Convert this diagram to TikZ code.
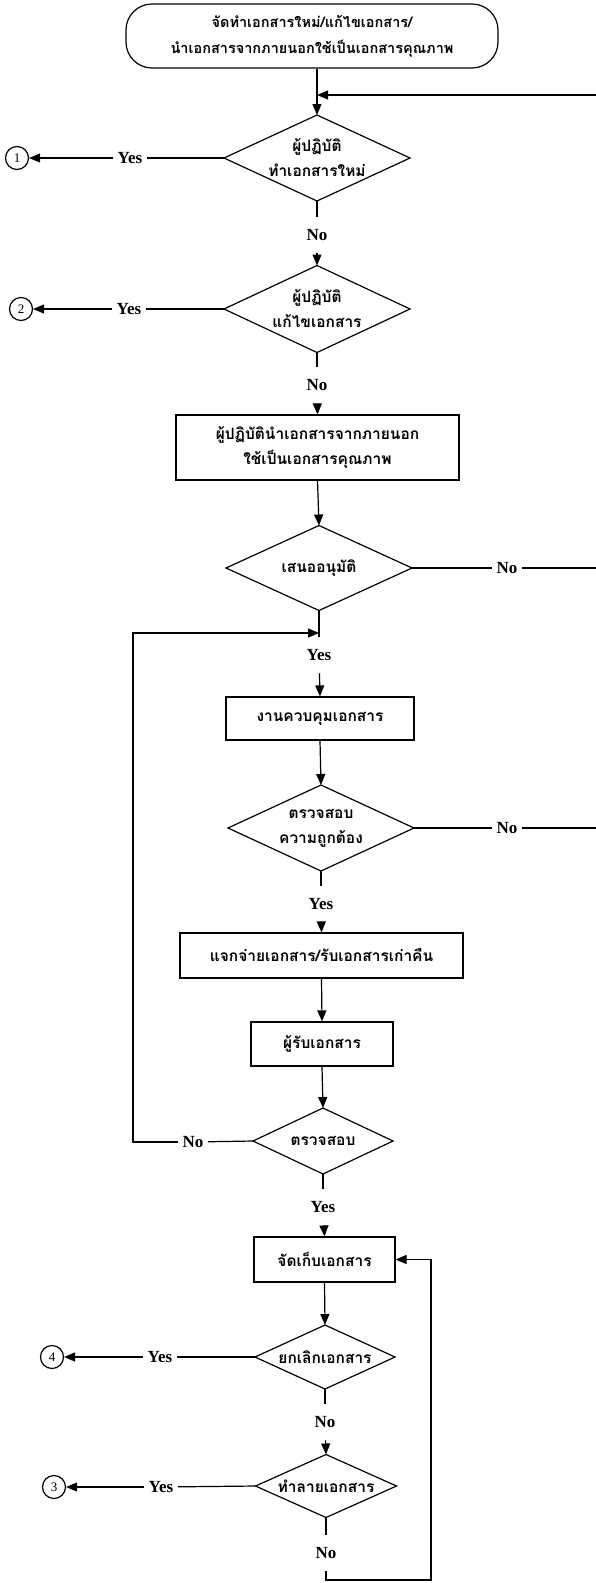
\documentclass[tikz,border=0pt]{standalone}
\usepackage{fontspec}
\setmainfont{Liberation Serif}
\newfontfamily\thaifont[Script=Thai]{Loma}
\usetikzlibrary{shapes.geometric,arrows.meta}

\begin{document}
\begin{tikzpicture}[x=1pt,y=-1pt,line width=1.2pt,
        >={Triangle[length=11pt,width=9pt]},
        th/.style={font={\thaifont\bfseries\fontsize{15.5}{25}\selectfont},align=center},
        term/.style={draw,rounded corners=26pt,inner sep=0pt,align=center,font={\thaifont\bfseries\fontsize{14.5}{26}\selectfont}},
        proc/.style={draw,inner sep=0pt,th},
        dec/.style={diamond,draw,inner sep=0pt,outer sep=0pt},
        lab/.style={font={\bfseries\fontsize{17}{19}\selectfont},inner xsep=4pt,inner ysep=12pt},
        conn/.style={draw,circle,minimum size=23pt,inner sep=0pt,font={\fontsize{13}{13}\selectfont}}]
                \useasboundingbox (0,0) rectangle (595,1583);
                \node[term,minimum width=372pt,minimum height=64pt] (t) at (312,36) {จัดทำเอกสารใหม่/แก้ไขเอกสาร/\\นำเอกสารจากภายนอกใช้เป็นเอกสารคุณภาพ};
                \node[dec,minimum width=186pt,minimum height=86pt] (d1) at (317,158) {};
                \node[th] (d1t) at (d1) {ผู้ปฏิบัติ\\ทำเอกสารใหม่};
                \node[dec,minimum width=186pt,minimum height=87pt] (d2) at (317,309) {};
                \node[th] (d2t) at (d2) {ผู้ปฏิบัติ\\แก้ไขเอกสาร};
                \node[proc,minimum width=283pt,minimum height=65pt] (b1) at (317.5,447.5) {ผู้ปฏิบัตินำเอกสารจากภายนอก\\ใช้เป็นเอกสารคุณภาพ};
                \node[dec,minimum width=186pt,minimum height=85pt] (d3) at (319,568) {};
                \node[th] (d3t) at (d3) {เสนออนุมัติ};
                \node[proc,minimum width=188pt,minimum height=43pt] (b2) at (320,718.5) {งานควบคุมเอกสาร};
                \node[dec,minimum width=186pt,minimum height=86pt] (d4) at (321,828) {};
                \node[th] (d4t) at (d4) {ตรวจสอบ\\ความถูกต้อง};
                \node[proc,minimum width=283pt,minimum height=45pt] (b3) at (321.5,955.5) {แจกจ่ายเอกสาร/รับเอกสารเก่าคืน};
                \node[proc,minimum width=142pt,minimum height=44pt] (b4) at (322,1044) {ผู้รับเอกสาร};
                \node[dec,minimum width=140pt,minimum height=66pt] (d5) at (323,1141) {};
                \node[th] (d5t) at (d5) {ตรวจสอบ};
                \node[proc,minimum width=141pt,minimum height=45pt] (b5) at (324.5,1259.5) {จัดเก็บเอกสาร};
                \node[dec,minimum width=140pt,minimum height=64pt] (d6) at (325,1357) {};
                \node[th] (d6t) at (d6) {ยกเลิกเอกสาร};
                \node[dec,minimum width=141pt,minimum height=63pt] (d7) at (326,1486) {};
                \node[th] (d7t) at (d7) {ทำลายเอกสาร};
                \node[conn] (c1) at (17,158) {1};
                \node[conn] (c2) at (21,309) {2};
                \node[conn] (c4) at (52,1357) {4};
                \node[conn] (c3) at (54,1487) {3};
                \node[lab] (yes1) at (130,158) {Yes};
                \node[lab] (yes2) at (129,309) {Yes};
                \node[lab] (no1) at (317,235) {No};
                \node[lab] (no2) at (317,385) {No};
                \node[lab] (no3) at (507,568) {No};
                \node[lab] (yes3) at (319,655) {Yes};
                \node[lab] (no4) at (507,828) {No};
                \node[lab] (yes4) at (321,904) {Yes};
                \node[lab] (no5) at (193,1142) {No};
                \node[lab] (yes5) at (323,1207) {Yes};
                \node[lab] (yes6) at (160,1357) {Yes};
                \node[lab] (no6) at (325,1422) {No};
                \node[lab] (yes7) at (161,1487) {Yes};
                \node[lab] (no7) at (326,1553) {No};
                \coordinate (fb1) at (317,95);
                \coordinate (rtop) at (598,95);
                \coordinate (j2) at (319,633);
                \coordinate (lft) at (133,633);
                \coordinate (br) at (431,1580);
                \draw[->] (t.south -| d1.north) -- (d1.north);
                \draw (d1.west) -- (yes1);
                \draw[->] (yes1) -- (c1);
                \draw (d1.south) -- (no1);
                \draw[->] (no1) -- (d2.north);
                \draw (d2.west) -- (yes2);
                \draw[->] (yes2) -- (c2);
                \draw (d2.south) -- (no2);
                \draw[->] (no2) -- (b1.north);
                \draw[->] (b1.south) -- (d3.north);
                \draw (d3.east) -- (no3);
                \draw[->] (no3) -- (no3 -| rtop) -- (rtop) -- (fb1);
                \draw (d3.south) -- (yes3);
                \draw[->] (yes3) -- (b2.north);
                \draw[->] (b2.south) -- (d4.north);
                \draw (d4.east) -- (no4);
                \draw (no4) -- (no4 -| rtop) -- (rtop);
                \draw (d4.south) -- (yes4);
                \draw[->] (yes4) -- (b3.north);
                \draw[->] (b3.south) -- (b4.north);
                \draw[->] (b4.south) -- (d5.north);
                \draw (d5.west) -- (no5);
                \draw[->] (no5) -| (lft) -- (j2);
                \draw (d5.south) -- (yes5);
                \draw[->] (yes5) -- (b5.north);
                \draw[->] (b5.south) -- (d6.north);
                \draw (d6.west) -- (yes6);
                \draw[->] (yes6) -- (c4);
                \draw (d6.south) -- (no6);
                \draw[->] (no6) -- (d7.north);
                \draw (d7.west) -- (yes7);
                \draw[->] (yes7) -- (c3);
                \draw (d7.south) -- (no7);
                \draw[->] (no7) |- (br) |- (b5.east);
\end{tikzpicture}
\end{document}
